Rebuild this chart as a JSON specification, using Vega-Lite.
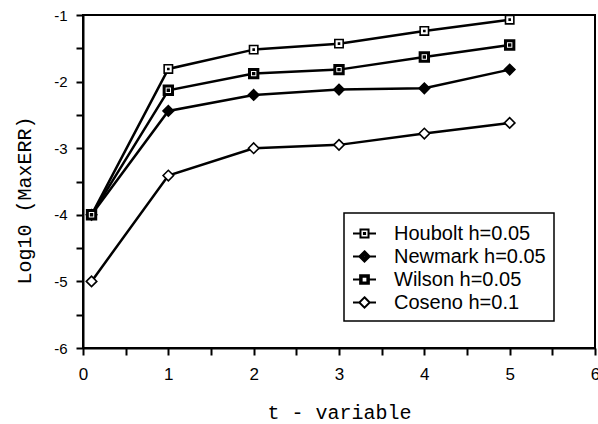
{
  "$schema": "https://vega.github.io/schema/vega-lite/v6.json",
  "width": 512,
  "height": 333,
  "autosize": "none",
  "padding": {"left": 83, "top": 15, "right": 3, "bottom": 76},
  "background": "white",
  "config": {
    "view": {"stroke": "black", "strokeWidth": 2},
    "font": "Liberation Sans",
    "axis": {
      "domainColor": "black", "domainWidth": 2, "tickColor": "black", "tickWidth": 2, "tickSize": 7,
      "labelColor": "black", "labelFont": "Liberation Sans", "labelFontSize": 15,
      "titleColor": "black", "titleFont": "Liberation Mono", "titleFontSize": 20, "titleFontWeight": "normal",
      "grid": false
    },
    "legend": {"strokeWidth": 1.5}
  },
  "data": {
    "values": [
      {"series": "Houbolt h=0.05", "t": 0.1, "v": -4.0},
      {"series": "Houbolt h=0.05", "t": 1, "v": -1.81},
      {"series": "Houbolt h=0.05", "t": 2, "v": -1.52},
      {"series": "Houbolt h=0.05", "t": 3, "v": -1.43},
      {"series": "Houbolt h=0.05", "t": 4, "v": -1.24},
      {"series": "Houbolt h=0.05", "t": 5, "v": -1.07},
      {"series": "Newmark h=0.05", "t": 0.1, "v": -4.0},
      {"series": "Newmark h=0.05", "t": 1, "v": -2.44},
      {"series": "Newmark h=0.05", "t": 2, "v": -2.2},
      {"series": "Newmark h=0.05", "t": 3, "v": -2.12},
      {"series": "Newmark h=0.05", "t": 4, "v": -2.1},
      {"series": "Newmark h=0.05", "t": 5, "v": -1.82},
      {"series": "Wilson h=0.05", "t": 0.1, "v": -4.0},
      {"series": "Wilson h=0.05", "t": 1, "v": -2.13},
      {"series": "Wilson h=0.05", "t": 2, "v": -1.88},
      {"series": "Wilson h=0.05", "t": 3, "v": -1.82},
      {"series": "Wilson h=0.05", "t": 4, "v": -1.63},
      {"series": "Wilson h=0.05", "t": 5, "v": -1.45},
      {"series": "Coseno h=0.1", "t": 0.1, "v": -5.0},
      {"series": "Coseno h=0.1", "t": 1, "v": -3.41},
      {"series": "Coseno h=0.1", "t": 2, "v": -3.0},
      {"series": "Coseno h=0.1", "t": 3, "v": -2.95},
      {"series": "Coseno h=0.1", "t": 4, "v": -2.78},
      {"series": "Coseno h=0.1", "t": 5, "v": -2.62}
    ]
  },
  "encoding": {
    "x": {
      "field": "t", "type": "quantitative",
      "scale": {"domain": [0, 6], "nice": false, "zero": false},
      "axis": {
        "title": "t - variable",
        "values": [0, 0.5, 1, 1.5, 2, 2.5, 3, 3.5, 4, 4.5, 5, 5.5, 6],
        "labelExpr": "datum.value % 1 === 0 ? '' + datum.value : ''",
        "labelPadding": 11, "labelFlush": false, "labelFontSize": 17,
        "titleY": 70, "titleBaseline": "alphabetic"
      }
    },
    "y": {
      "field": "v", "type": "quantitative",
      "scale": {"domain": [-6, -1], "nice": false, "zero": false},
      "axis": {
        "title": "Log10 (MaxERR)",
        "values": [-6, -5.5, -5, -4.5, -4, -3.5, -3, -2.5, -2, -1.5, -1],
        "labelExpr": "datum.value % 1 === 0 ? '' + datum.value : ''",
        "labelPadding": 9, "labelFlush": false,
        "titleAngle": -90, "titleX": -59, "titleY": 185, "titleAlign": "center", "titleBaseline": "middle"
      }
    }
  },
  "layer": [
    {
      "mark": {"type": "line", "stroke": "black", "strokeWidth": 2.5},
      "encoding": {"detail": {"field": "series"}}
    },
    {
      "mark": {"type": "point", "filled": true, "stroke": "black", "opacity": 1},
      "encoding": {
        "shape": {
          "condition": [
            {"test": "datum.series === 'Houbolt h=0.05'", "value": "M-1,-1H1V1H-1ZM-0.12,-0.12H0.12V0.12H-0.12Z"},
            {"test": "datum.series === 'Wilson h=0.05'", "value": "M-1,-1H1V1H-1ZM-0.05,-0.05H0.05V0.05H-0.05Z"}
          ],
          "value": "diamond"
        },
        "fill": {"condition": {"test": "datum.series === 'Newmark h=0.05'", "value": "black"}, "value": "white"},
        "strokeWidth": {"condition": {"test": "datum.series === 'Wilson h=0.05'", "value": 3}, "value": 1.6},
        "size": {"condition": {"test": "datum.series === 'Newmark h=0.05' || datum.series === 'Coseno h=0.1'", "value": 110}, "value": 70}
      }
    },
    {
      "transform": [{"filter": "datum.t > 100"}],
      "mark": {"type": "point", "filled": false, "color": "black", "stroke": "black", "strokeWidth": 2, "opacity": 1},
      "encoding": {
        "shape": {
          "field": "series", "type": "nominal",
          "scale": {"domain": ["Houbolt h=0.05", "Newmark h=0.05", "Wilson h=0.05", "Coseno h=0.1"],
            "range": [
              "M-1,0H-0.35M0.35,0H1M-0.35,-0.35H0.35V0.35H-0.35ZM-0.05,-0.05H0.05V0.05H-0.05Z",
              "M-1,0H-0.45M0.45,0H1M0,-0.45L0.45,0L0,0.45L-0.45,0ZM0,-0.3L0.3,0L0,0.3L-0.3,0ZM0,-0.15L0.15,0L0,0.15L-0.15,0Z",
              "M-1,0H-0.38M0.38,0H1M-0.38,-0.38H0.38V0.38H-0.38ZM-0.25,-0.25H0.25V0.25H-0.25Z",
              "M-1,0H-0.45M0.45,0H1M0,-0.45L0.45,0L0,0.45L-0.45,0Z"
            ]},
          "legend": {
            "title": null, "orient": "none", "legendX": 261, "legendY": 198,
            "strokeColor": "black", "fillColor": "white", "padding": 8,
            "labelFont": "Liberation Sans", "labelFontSize": 20, "labelColor": "black", "labelOffset": 17, "labelLimit": 300,
            "symbolSize": 529, "rowPadding": -4,
            "symbolStrokeColor": "black", "symbolStrokeWidth": 2
          }
        }
      }
    }
  ]
}
